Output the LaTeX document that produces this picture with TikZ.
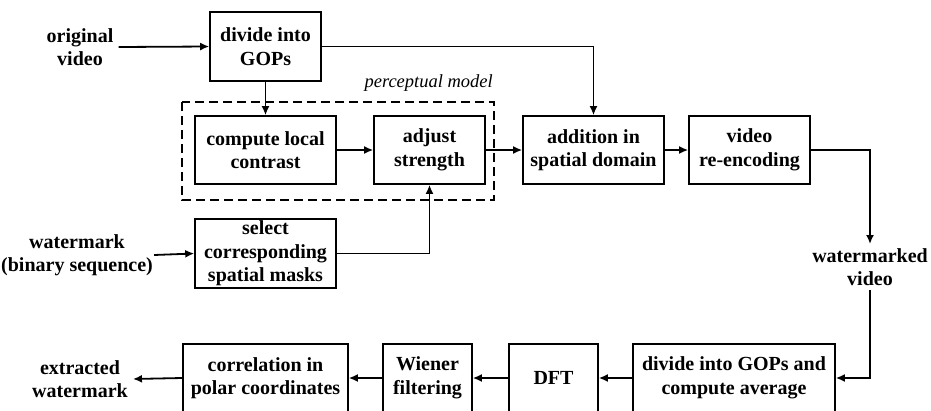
\documentclass[tikz,border=0pt]{standalone}
\usepackage{fontspec}
\setmainfont{Liberation Serif}
\usetikzlibrary{arrows.meta}
\begin{document}
\begin{tikzpicture}[x=1pt,y=-1pt,
  box/.style={draw, line width=1.6pt, align=center, inner sep=0pt,
    font=\fontsize{20}{23.5}\selectfont\bfseries},
  lbl/.style={align=center, inner sep=5pt, font=\fontsize{20}{23.5}\selectfont\bfseries},
  arr/.style={-{Latex[length=9pt,width=8pt]}, line width=1.8pt}]
\clip (0,0) rectangle (931,410);
\fill[white] (0,0) rectangle (931,410);

% perceptual model frame
\draw[line width=1.4pt, dash pattern=on 9pt off 5pt] (182,102) rectangle (494,200);
\node[anchor=base east, inner sep=0pt, font=\fontsize{18.5}{22}\selectfont\itshape] (pm) at (493,87) {perceptual model};

% nodes
\node[lbl] (orig) at (80,47) {original\\video};
\node[box, minimum width=111pt, minimum height=69pt] (gops) at (265.5,46.5) {divide into\\GOPs};
\node[box, minimum width=141pt, minimum height=68pt] (clc) at (265.5,150) {compute local\\contrast};
\node[box, minimum width=111pt, minimum height=68pt] (adj) at (429.5,150) {adjust\\strength};
\node[box, minimum width=141pt, minimum height=68pt] (add) at (593.5,150) {addition in\\spatial domain};
\node[box, minimum width=121pt, minimum height=68pt] (venc) at (749.5,150) {video\\re-encoding};
\node[lbl, inner sep=4pt] (wmv) at (870,267) {watermarked\\video};
\node[lbl, inner sep=1pt] (wm) at (77,255) {watermark\\(binary sequence)};
\node[box, minimum width=141pt, minimum height=69pt] (sel) at (265.5,253.5) {select\\corresponding\\spatial masks};
\node[box, minimum width=202pt, minimum height=68pt] (dga) at (734,378) {divide into GOPs and\\compute average};
\node[box, minimum width=89pt, minimum height=68pt] (dft) at (553.5,378) {DFT};
\node[box, minimum width=89pt, minimum height=68pt] (wf) at (427.5,378) {Wiener\\filtering};
\node[box, minimum width=165pt, minimum height=68pt] (corr) at (265.5,378) {correlation in\\polar coordinates};
\node[lbl] (ext) at (80,379) {extracted\\watermark};

% connectors
\draw[arr] (orig.east) -- (gops.west);
\draw[arr] (gops.south) -- (clc.north);
\draw[arr] (gops.east) -| (add.north);
\draw[arr] (clc) -- (adj);
\draw[arr] (adj) -- (add);
\draw[arr] (add) -- (venc);
\draw[arr] (venc.east) -| (wmv.north);
\draw[arr] (wmv.south) |- (dga.east);
\draw[arr] (dga) -- (dft);
\draw[arr] (dft) -- (wf);
\draw[arr] (wf) -- (corr);
\draw[arr] (corr.west) -- (ext.east);
\draw[arr] (wm.east) -- (sel.west);
\draw[arr] (sel.east) -| (adj.south);
\end{tikzpicture}
\end{document}
